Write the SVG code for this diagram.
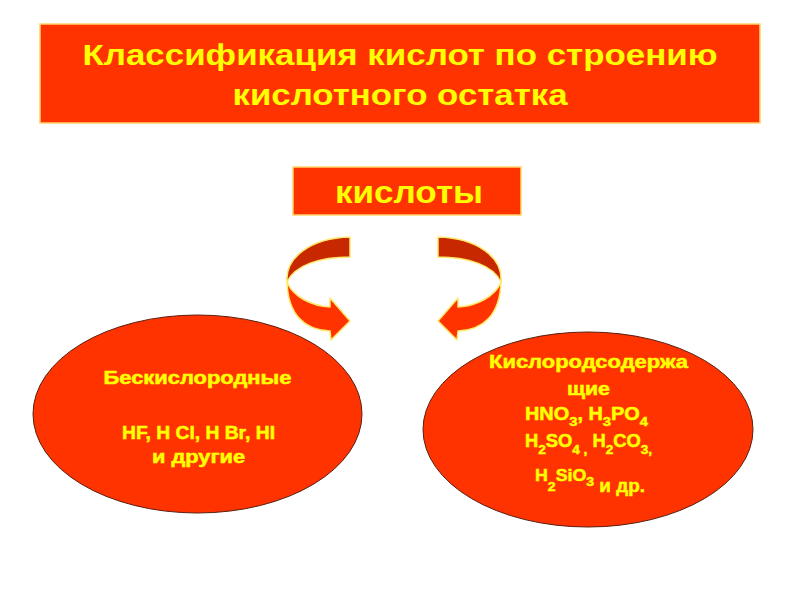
<svg xmlns="http://www.w3.org/2000/svg" width="800" height="600" viewBox="0 0 800 600">
<style>
.box{fill:#FF3300;stroke:#FFD36A;stroke-width:1.5}
.ell{fill:#FF3300;stroke:#5A1E10;stroke-width:1}
.t{fill:#FFFF00;font-family:"Liberation Sans",Arial,sans-serif;font-weight:bold;text-anchor:middle}
.s{stroke:#FFFF00;stroke-width:0.5}
.a-back{fill:#C82800;stroke:#FFE86A;stroke-width:1.5;stroke-linejoin:round}
.a-front{fill:#FF3300;stroke:#FFE86A;stroke-width:1.5;stroke-linejoin:round}
</style>
<defs>
<g id="curved">
<path class="a-back" d="M350,237 L350,257 C320,257 295,265 287,282 C285,258 310,238 350,237 Z"/>
<path class="a-front" d="M287,282 C293,297 312,306 330,307 L330,298 L350,321 L331,340 L330,331 C305,330 288,315 287,282 Z"/>
</g>
</defs>
<rect width="800" height="600" fill="#FFFFFF"/>
<g id="title">
<rect class="box" x="40" y="24" width="720" height="99"/>
<text class="t" x="400" y="65" font-size="30" textLength="635" lengthAdjust="spacingAndGlyphs">Классификация кислот по строению</text>
<text class="t" x="400" y="105" font-size="30" textLength="335" lengthAdjust="spacingAndGlyphs">кислотного остатка</text>
</g>
<g id="acids">
<rect class="box" x="293" y="167" width="228" height="48"/>
<text class="t" x="409" y="203" font-size="31" textLength="148" lengthAdjust="spacingAndGlyphs">кислоты</text>
</g>
<g id="connectors">
<use href="#curved"/>
<use href="#curved" transform="translate(788,0) scale(-1,1)"/>
</g>
<g id="oxygen-free">
<ellipse class="ell" cx="197.5" cy="414" rx="164.5" ry="99"/>
<text class="t s" x="197.5" y="384" font-size="17.5" textLength="188" lengthAdjust="spacingAndGlyphs">Бескислородные</text>
<text class="t s" x="198.5" y="439" font-size="17.5" textLength="153" lengthAdjust="spacingAndGlyphs">HF, H Cl, H Br, HI</text>
<text class="t s" x="198.5" y="463" font-size="17.5" textLength="93" lengthAdjust="spacingAndGlyphs">и другие</text>
</g>
<g id="oxygen-containing">
<ellipse class="ell" cx="588" cy="429.5" rx="165" ry="97.5"/>
<text class="t s" x="588.5" y="368" font-size="17.5" textLength="199" lengthAdjust="spacingAndGlyphs">Кислородсодержа</text>
<text class="t s" x="588.5" y="395" font-size="17.5" textLength="43" lengthAdjust="spacingAndGlyphs">щие</text>
<text class="t s" x="586.5" y="420" font-size="17.5" textLength="123" lengthAdjust="spacingAndGlyphs">HNO<tspan font-size="13" dy="6">3</tspan><tspan dy="-6">, H</tspan><tspan font-size="13" dy="6">3</tspan><tspan dy="-6">PO</tspan><tspan font-size="13" dy="6">4</tspan></text>
<text class="t s" x="588.5" y="447" font-size="17.5" textLength="127" lengthAdjust="spacingAndGlyphs">H<tspan font-size="13" dy="7">2</tspan><tspan dy="-7">SO</tspan><tspan font-size="13" dy="7">4 ,</tspan><tspan dy="-7"> H</tspan><tspan font-size="13" dy="7">2</tspan><tspan dy="-7">CO</tspan><tspan font-size="13" dy="7">3,</tspan></text>
<text class="t s" x="590" y="481" font-size="16.5" textLength="110" lengthAdjust="spacingAndGlyphs">H<tspan font-size="13" dy="10">2</tspan><tspan dy="-10">SiO</tspan><tspan font-size="13" dy="5">3</tspan><tspan font-size="17.5" dy="6"> и др.</tspan></text>
</g>
</svg>
